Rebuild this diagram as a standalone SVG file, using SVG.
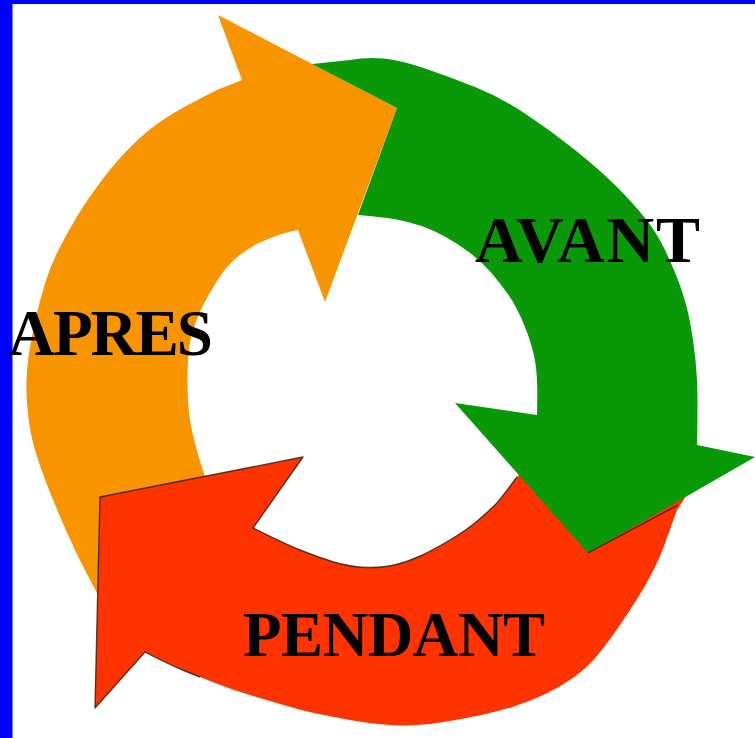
<svg xmlns="http://www.w3.org/2000/svg" width="755" height="738" viewBox="0 0 755 738">
<style>
.lbl{font-family:"Liberation Serif","Times New Roman",serif;font-weight:bold;fill:#000}
.edge{fill:none;stroke:#2a1a10;stroke-width:1.4;stroke-opacity:.8;stroke-linejoin:round}
</style>
<rect x="0" y="0" width="755" height="738" fill="#fff"/>
<rect x="0" y="0" width="755" height="4" fill="#0000ff"/>
<rect x="0" y="0" width="12.5" height="738" fill="#0000ff"/>
<g id="apres">
<path fill="#F79400" d="M100,600 L206,480 Q193,440 190,420 Q187,400 187.5,373.5 Q188,347 192,333.5 Q196,320 201.5,308.5 Q207,297 217,281 Q227,265 238.5,256 Q250,247 260,242.5 Q270,238 280,234.5 Q290,231 298,230 L325,302 L397,108 L218,15 L242,80 L217,90 Q183,107 166.5,117.5 Q150,128 133.5,144 Q117,160 102,180 Q87,200 77,216.5 Q67,233 58.5,250 Q50,267 45,283.5 Q40,300 36.5,315 Q33,330 30,347.5 Q27,365 26.5,380 Q26,395 28,414 Q30,433 35,450 Q40,467 46.5,483.5 Q53,500 60,516.5 Q67,533 75,550 Q83,567 97,593 Z"/>
<text class="lbl" x="8" y="355" font-size="65" textLength="205">APRES</text>
</g>
<g id="pendant">
<path fill="#FF3300" d="M525,468 L690,490 L677,510 Q668,535 664,546 Q660,557 653,571 Q646,585 638,597.5 Q630,610 620,625 Q610,640 598.5,654 Q587,668 573.5,677.5 Q560,687 546.5,693.5 Q533,700 516.5,705.5 Q500,711 483.5,714.5 Q467,718 450,721 Q433,724 416.5,725 Q400,726 383.5,724.5 Q367,723 350,720 Q333,717 316.5,713.5 Q300,710 283.5,705 Q267,700 250,695 Q233,690 216.5,683.5 Q200,677 185,671 Q170,665 145,652 L95,708 L100,497 L303,457 L253,528 Q283,543 300,550 Q317,557 333.5,562 Q350,567 366.5,567.5 Q383,568 396.5,564.5 Q410,561 421.5,555.5 Q433,550 450,540 Q467,530 478.5,520 Q490,510 495,505 Q500,500 517,477 Z"/>
<path class="edge" d="M200,677 Q185,671 185,671 Q170,665 145,652 L95,708 L100,497 L303,457 L253,528 Q283,543 300,550 Q317,557 333.5,562 Q350,567 366.5,567.5 Q383,568 396.5,564.5 Q410,561 421.5,555.5 Q433,550 450,540 Q467,530 478.5,520 Q490,510 495,505 Q500,500 517,477"/>
<text class="lbl" x="243" y="656" font-size="63" textLength="302">PENDANT</text>
</g>
<g id="avant">
<path fill="#089808" d="M312,64 L350,60 Q367,57 383.5,58.5 Q400,60 425,68.5 Q450,77 475,87 Q500,97 525,113.5 Q550,130 575,150 Q600,170 616.5,186.5 Q633,203 645,218 Q657,233 665,250 Q673,267 678,280 Q683,293 686.5,306.5 Q690,320 693,340 Q696,360 697,380 Q698,400 697,445 L755,457 L588,553 L455,403 L537,415 Q538,380 535.5,363.5 Q533,347 525,327 Q517,307 508.5,295 Q500,283 491.5,273 Q483,263 471.5,254 Q460,245 446.5,237.5 Q433,230 421.5,226 Q410,222 396.5,219.5 Q383,217 358,215 L397,108 Z"/>
<path class="edge" d="M588,553 L678,505"/>
<text class="lbl" x="475" y="262" font-size="66" textLength="225">AVANT</text>
</g>
</svg>
